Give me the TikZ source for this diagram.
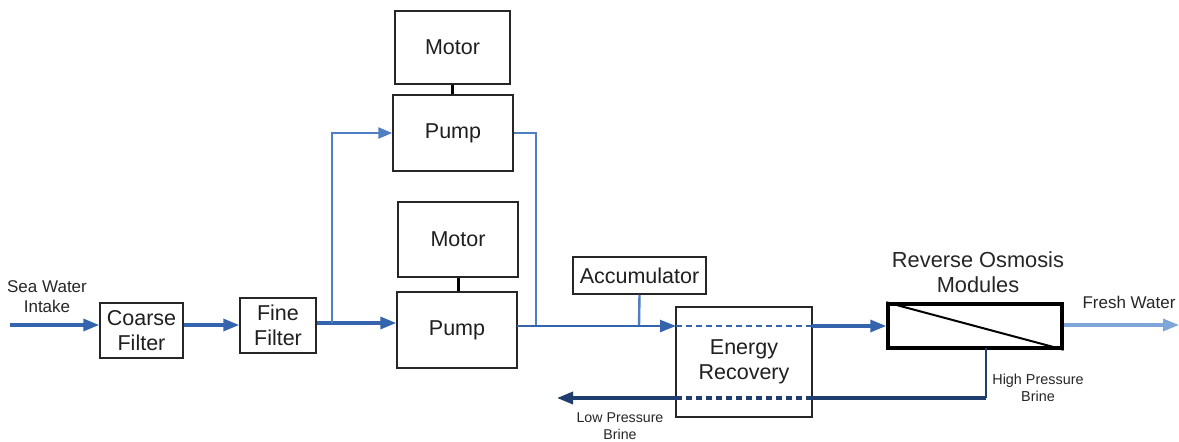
\documentclass[tikz,border=0pt]{standalone}
\usepackage{fontspec}
\setmainfont{Liberation Sans}
\usetikzlibrary{arrows.meta,calc}
\definecolor{mainblue}{HTML}{3564AE}
\definecolor{lightblue}{HTML}{4F7FC2}
\definecolor{navy}{HTML}{1F3D6E}
\definecolor{freshblue}{HTML}{7FA6D8}
\tikzset{
  box/.style={draw=black!85, line width=1.5pt, rectangle, align=center, inner sep=0pt, text=black!88, font=\fontsize{21.5}{25}\selectfont},
  tip/.style={-{Triangle[length=16pt,width=12pt]}},
  mainflow/.style={draw=mainblue, line width=3.3pt, tip},
  thinflow/.style={draw=lightblue, line width=2.4pt},
  thinarrow/.style={thinflow, -{Triangle[length=14pt,width=11pt]}},
  brine/.style={draw=navy, line width=3.3pt},
  lbl/.style={align=center, text=black!85},
  shaft/.style={draw=black, line width=3pt}
}
\begin{document}
\begin{tikzpicture}[x=1pt,y=-1pt]
\useasboundingbox (0,0) rectangle (1179,442);
\fill[white] (0,0) rectangle (1179,442);

% nodes
\node[box, minimum width=83pt, minimum height=55pt] (coarse) at (141.5,330.5) {Coarse\\Filter};
\node[box, minimum width=76pt, minimum height=55pt] (fine) at (278,325.5) {Fine\\Filter};
\node[box, minimum width=115pt, minimum height=73pt] (motor1) at (452.5,47.5) {Motor};
\node[box, minimum width=120pt, minimum height=76pt] (pump1) at (453,133) {Pump};
\node[box, minimum width=120pt, minimum height=75pt] (motor2) at (458,239.5) {Motor};
\node[box, minimum width=120pt, minimum height=76pt] (pump2) at (457,330) {Pump};
\node[box, minimum width=133pt, minimum height=37pt] (accum) at (639.5,275.5) {Accumulator};
\node[box, minimum width=136pt, minimum height=110pt] (er) at (744,362) {Energy\\Recovery};
\node[box, draw=black, line width=3.5pt, minimum width=174pt, minimum height=44pt] (ro) at (975,326) {};
\draw[black, line width=2pt] (ro.north west) -- (ro.south east);

% labels
\node[lbl, font=\fontsize{17}{20}\selectfont] (intakelbl) at (47,297) {Sea Water\\Intake};
\node[lbl, font=\fontsize{21.8}{25}\selectfont] (rolbl) at (978,272) {Reverse Osmosis\\Modules};
\node[lbl, font=\fontsize{17}{20}\selectfont] (freshlbl) at (1129,302) {Fresh Water};
\node[lbl, font=\fontsize{14.4}{17}\selectfont] (hplbl) at (1038,388) {High Pressure\\Brine};
\node[lbl, font=\fontsize{14.2}{17}\selectfont] (lplbl) at (620,426) {Low Pressure\\Brine};

% coordinates
\coordinate (intake) at (10,325);
\coordinate (j1) at (332,323);
\coordinate (out) at (517,326);
\coordinate (j2) at (536,326);
\coordinate (j3) at (639,326);
\coordinate (erin) at (676,326);
\coordinate (erout) at (812,326);
\coordinate (rob) at (986,348);
\coordinate (brc) at (986,398);
\coordinate (erbr) at (812,398);
\coordinate (erbl) at (676,398);
\coordinate (lpend) at (557,398);
\coordinate (freshend) at (1179,325);

% shafts
\draw[shaft] (motor1.south) -- (motor1.south |- pump1.north);
\draw[shaft] (motor2.south) -- (motor2.south |- pump2.north);

% main flow
\draw[mainflow] (intake) -- (intake -| coarse.west);
\draw[mainflow] (coarse.east |- intake) -- (intake -| fine.west);
\draw[mainflow] (j1 -| fine.east) -- (j1 -| pump2.west);
\draw[thinarrow] (j1) |- (pump1.west);
\draw[thinflow] (pump1.east) -| (j2);
\draw[thinflow] (accum.south) -- (j3);
\draw[thinflow, draw=mainblue, tip] (out) -- (erin);
\draw[draw=mainblue, line width=2.4pt, dash pattern=on 6pt off 4pt] (erin) -- (erout);
\draw[mainflow] (erout) -- (erout -| ro.west);
\draw[draw=freshblue, line width=3.3pt, tip] (ro.east |- freshend) -- (freshend);

% brine
\draw[draw=navy, line width=2.4pt] (rob) |- (brc);
\draw[brine] (brc) -- (erbr);
\draw[brine, dash pattern=on 6pt off 4pt] (erbr) -- (erbl);
\draw[brine, tip] (erbl) -- (lpend);
\end{tikzpicture}
\end{document}
